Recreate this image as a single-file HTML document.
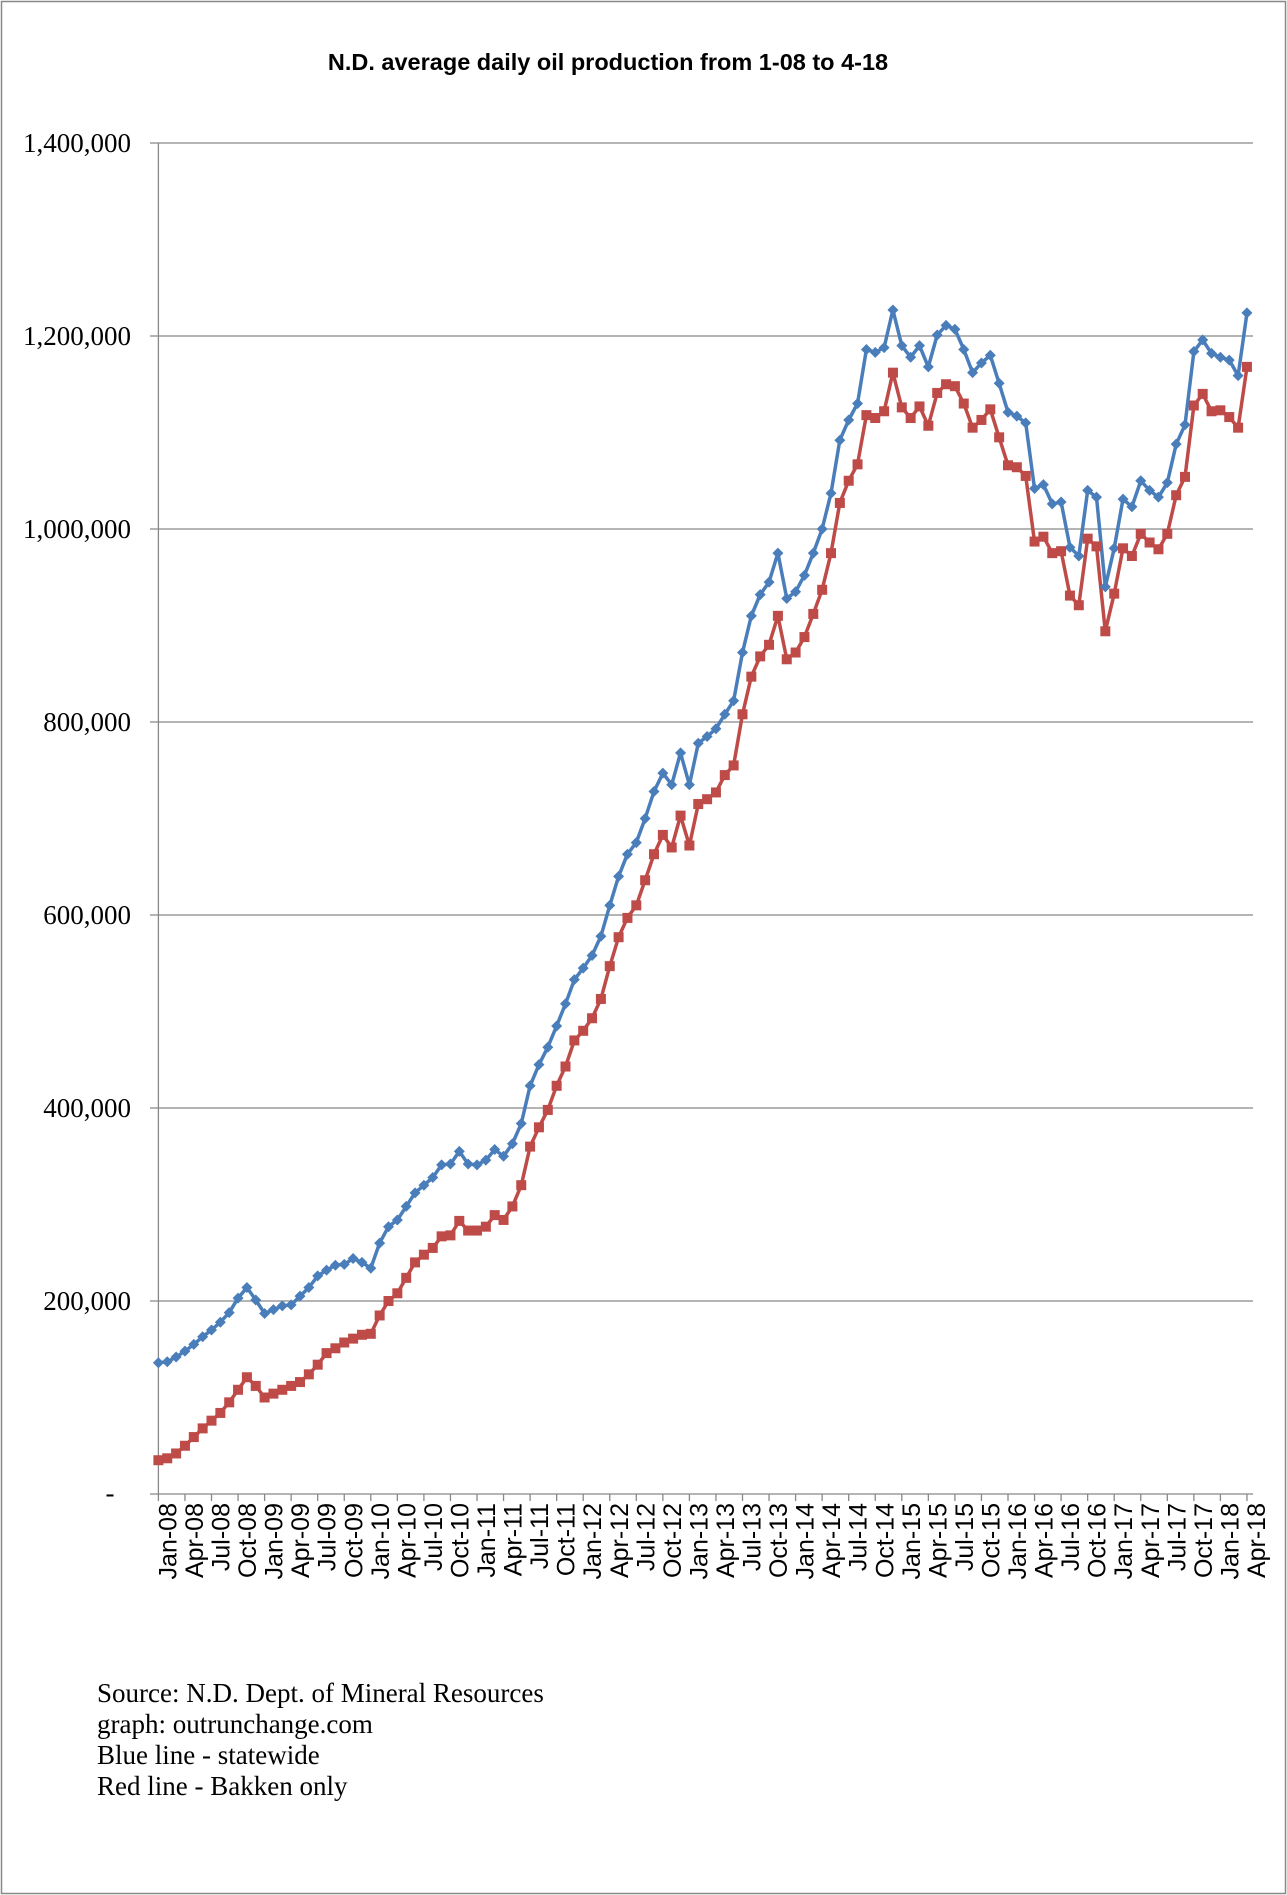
<!DOCTYPE html>
<html><head><meta charset="utf-8"><style>
html,body{margin:0;padding:0;background:#fff}
svg{display:block}
</style></head><body>
<svg id="s" width="1287" height="1895" xmlns="http://www.w3.org/2000/svg">
<rect x="1.5" y="1.5" width="1284" height="1892" fill="#fff" stroke="#888" stroke-width="1.5"/>
<text x="608" y="70" text-anchor="middle" font-family="Liberation Sans, sans-serif" font-weight="bold" font-size="23.5">N.D. average daily oil production from 1-08 to 4-18</text>
<g id="grid"></g>
<g font-family="Liberation Serif, serif" font-size="27" fill="#000">
<text x="97" y="1702">Source: N.D. Dept. of Mineral Resources</text>
<text x="97" y="1733">graph: outrunchange.com</text>
<text x="97" y="1764">Blue line - statewide</text>
<text x="97" y="1795">Red line - Bakken only</text>
</g>
</svg>
<script>
const blue=[136,137,142,148,155,163,170,178,188,203,214,201,
187,191,195,196,205,214,226,232,237,238,244,240,
234,260,277,284,298,312,320,328,341,342,355,342,
341,346,357,350,363,384,423,445,463,485,508,533,
545,558,578,610,640,663,675,700,728,747,735,768,
735,778,785,793,808,822,872,910,932,945,975,928,
935,952,975,1000,1037,1092,1113,1130,1186,1183,1188,1227,
1190,1178,1190,1168,1201,1211,1207,1186,1162,1172,1180,1151,
1121,1117,1110,1042,1046,1026,1028,981,972,1040,1033,940,
980,1031,1023,1050,1040,1033,1048,1088,1108,1184,1196,1182,
1178,1175,1159,1224];
const red=[35,37,42,50,59,68,76,84,95,108,121,112,
100,104,108,112,116,124,134,146,151,157,161,165,
166,185,200,208,224,240,248,255,267,268,283,273,
273,277,289,284,298,320,360,380,398,423,443,470,
480,493,513,547,577,597,610,636,663,683,670,703,
672,715,720,727,745,755,808,847,868,880,910,865,
872,888,912,937,975,1027,1050,1067,1118,1115,1122,1162,
1126,1115,1127,1107,1141,1150,1148,1130,1105,1113,1124,1095,
1066,1064,1055,987,992,975,977,931,921,990,982,894,
933,980,972,995,986,979,995,1035,1054,1128,1140,1122,
1123,1116,1105,1168];
const X0=158.4,DX=8.85,Y0=1494,PY=193/200;
const x=i=>X0+i*DX, y=v=>Y0-v*PY;
let h='';
const labs=['1,400,000','1,200,000','1,000,000','800,000','600,000','400,000','200,000'];
for(let k=1;k<=7;k++){const yy=Y0-k*193;
h+=`<line x1="150" y1="${yy}" x2="1253" y2="${yy}" stroke="#888" stroke-width="1.3"/>`;
h+=`<text x="131" y="${yy+9}" text-anchor="end" font-family="Liberation Serif, serif" font-size="27">${labs[7-k]}</text>`;}
h+=`<line x1="150" y1="${Y0}" x2="1253" y2="${Y0}" stroke="#888" stroke-width="1.3"/>`;
h+=`<text x="110" y="${Y0+8}" text-anchor="middle" font-family="Liberation Serif, serif" font-size="27">-</text>`;
h+=`<line x1="${X0}" y1="${Y0-7*193}" x2="${X0}" y2="${Y0}" stroke="#888" stroke-width="1.3"/>`;
const mn=['Jan','Apr','Jul','Oct'];
for(let i=0;i<124;i+=3){const xx=x(i);
h+=`<line x1="${xx}" y1="${Y0}" x2="${xx}" y2="${Y0+7}" stroke="#888" stroke-width="1.3"/>`;
const lab=mn[(i/3)%4]+'-'+String(8+Math.floor(i/12)).padStart(2,'0');
h+=`<text transform="translate(${xx+18},1503) rotate(-90)" text-anchor="end" font-family="Liberation Sans, sans-serif" font-size="25">${lab}</text>`;}
const line=(d,c)=>`<polyline fill="none" stroke="${c}" stroke-width="3.5" stroke-linejoin="round" points="${d.map((v,i)=>x(i).toFixed(1)+','+y(v).toFixed(1)).join(' ')}"/>`;
h+=line(blue,'#4a7ebb');
h+=line(red,'#be4b48');
blue.forEach((v,i)=>{const a=x(i),b=y(v);h+=`<polygon points="${a},${b-5.5} ${a+5.5},${b} ${a},${b+5.5} ${a-5.5},${b}" fill="#4a7ebb"/>`;});
red.forEach((v,i)=>{const a=x(i),b=y(v);h+=`<rect x="${a-5}" y="${b-5}" width="10" height="10" fill="#be4b48"/>`;});
document.getElementById('grid').innerHTML=h;
</script>
</body></html>
